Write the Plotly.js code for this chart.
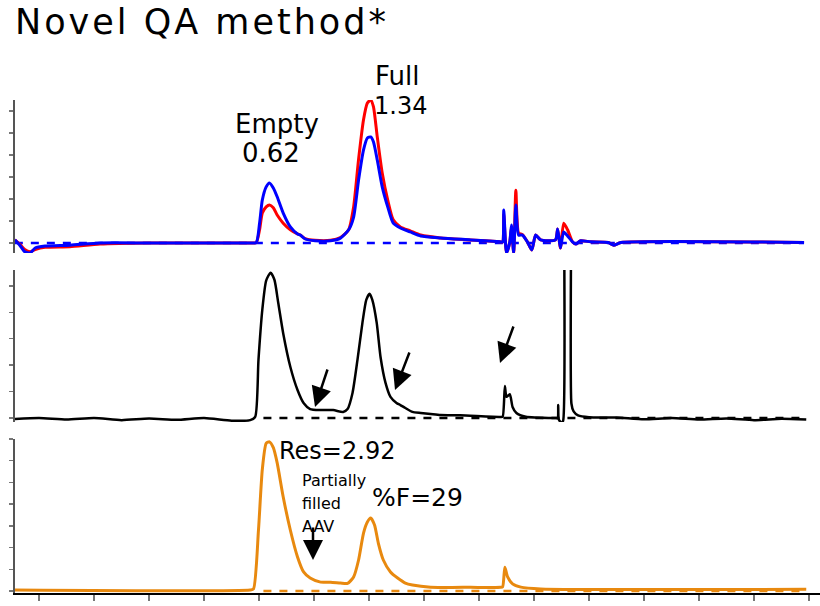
<!DOCTYPE html>
<html>
<head>
<meta charset="utf-8">
<script src="https://cdn.plot.ly/plotly-3.0.1.min.js"></script>
<style>html,body{margin:0;padding:0;background:#fff;} .gtitle{letter-spacing:3px;}</style>
</head>
<body>
<div id="chart" style="width:820px;height:606px;"></div>
<script>
// ---- data (retention time in min, detector signal in tick units) ----
const uvBlueX = [-0.44,-0.35,-0.26,-0.16,-0.07,0.11,0.56,1.11,2.02,3.84,3.95,4.01,4.06,4.13,4.19,4.26,4.33,4.44,4.57,4.70,4.75,4.84,5.02,5.30,5.48,5.63,5.72,5.81,5.90,5.97,6.03,6.08,6.15,6.24,6.34,6.44,6.57,6.75,6.94,7.30,7.85,8.39,8.43,8.45,8.50,8.56,8.59,8.63,8.67,8.72,8.79,8.88,8.96,9.03,9.12,9.39,9.43,9.48,9.54,9.61,9.70,9.76,9.85,10.03,10.35,10.45,10.58,13.91];
const uvBlueY = [0.14,-0.1,-0.4,-0.45,-0.23,-0.14,-0.1,0,0,0,0.02,0.9,1.95,2.55,2.73,2.5,2.1,1.36,0.73,0.41,0.36,0.18,0.1,0.1,0.22,0.6,1.18,2.86,4.23,4.77,4.82,4.6,3.77,2.55,1.64,0.9,0.68,0.5,0.32,0.23,0.14,0.05,0.05,1.5,-0.45,0.05,0.82,-0.45,1.73,0.36,0.36,0.05,-0.32,0.36,0.14,0.14,0.64,-0.23,0.5,0.32,0.05,-0.05,0.1,0.05,0.02,-0.1,0.02,0.02];
const uvRedX = [-0.44,-0.35,-0.26,-0.16,-0.07,0.11,0.56,1.11,2.02,3.84,3.95,4.01,4.06,4.13,4.19,4.26,4.33,4.44,4.57,4.70,4.75,4.84,5.02,5.30,5.48,5.63,5.72,5.81,5.90,5.97,6.03,6.08,6.15,6.24,6.34,6.44,6.57,6.75,6.94,7.30,7.85,8.39,8.43,8.45,8.50,8.56,8.59,8.63,8.67,8.72,8.79,8.88,8.96,9.03,9.12,9.39,9.43,9.48,9.54,9.61,9.70,9.76,9.85,10.03,10.35,10.45,10.58,13.91];
const uvRedY = [0.14,-0.05,-0.3,-0.4,-0.3,-0.2,-0.17,-0.05,0,0,0.02,0.6,1.36,1.64,1.73,1.6,1.27,0.9,0.6,0.41,0.36,0.2,0.12,0.12,0.25,0.6,1.64,3.8,5.6,6.36,6.5,6.2,4.82,3.18,1.95,1.05,0.73,0.55,0.36,0.23,0.14,0.05,0.05,1.3,-0.45,0.05,0.7,-0.45,2.4,0.45,0.38,0.05,-0.32,0.36,0.14,0.14,0.64,-0.23,0.9,0.6,0.05,-0.05,0.1,0.05,0.02,-0.1,0.02,0.02];
const flX = [-0.44,0.0,0.5,1.0,1.5,2.0,2.5,3.0,3.5,3.84,3.93,3.99,4.06,4.13,4.21,4.28,4.35,4.44,4.57,4.70,4.81,4.93,5.12,5.35,5.53,5.61,5.70,5.79,5.88,5.95,6.01,6.06,6.14,6.21,6.30,6.39,6.50,6.57,6.66,6.79,6.94,7.12,7.30,7.66,8.39,8.43,8.47,8.50,8.56,8.61,8.68,8.85,9.39,9.43,9.44,9.45,9.50,9.53,9.545,9.665,9.68,9.72,9.80,10.0,10.5,11.0,11.5,12.0,12.5,13.0,13.5,13.95];
const flY = [-0.04,0.0,-0.06,0.0,-0.08,-0.02,-0.07,0.0,-0.1,-0.08,0.04,2.2,4.1,5.2,5.5,5.23,4.35,3.2,1.93,1.06,0.57,0.34,0.3,0.3,0.23,0.34,0.95,2.2,3.6,4.47,4.7,4.47,3.6,2.3,1.33,0.8,0.57,0.49,0.38,0.23,0.19,0.15,0.11,0.1,0.04,0.05,1.21,0.8,0.9,0.42,0.19,0.05,0.0,0.0,0.49,-0.05,-0.19,-0.1,60,60,0.55,0.25,0.1,0.03,0.02,-0.05,0.0,-0.06,-0.02,-0.08,-0.03,-0.06];
const qaX = [-0.44,3.84,3.90,3.99,4.06,4.13,4.19,4.26,4.33,4.44,4.57,4.70,4.81,4.93,5.12,5.30,5.48,5.61,5.72,5.81,5.90,5.97,6.03,6.10,6.17,6.26,6.39,6.52,6.66,6.79,7.12,7.85,8.39,8.43,8.47,8.52,8.61,8.76,9.12,13.95];
const qaY = [0.05,0.05,0.1,2.8,5.6,6.8,6.87,6.6,5.9,4.33,2.8,1.57,0.88,0.6,0.41,0.41,0.37,0.35,0.65,1.43,2.67,3.18,3.36,3.04,2.2,1.43,0.88,0.6,0.37,0.28,0.18,0.17,0.17,0.2,1.1,0.65,0.33,0.18,0.1,0.08];
const baseUvX = [-0.44,13.91];
const baseFlX = [4.08,13.9];
const baseQaX = [4.08,13.95];
const baseY = [0,0];

const dashed = {dash:'8px,8px', width:2.5};
const sm = {shape:'spline', smoothing:0.6};
const traces = [
  {x:baseUvX, y:baseY, xaxis:'x', yaxis:'y', mode:'lines', line:Object.assign({color:'#0000ff'},dashed), hoverinfo:'skip'},
  {x:uvRedX, y:uvRedY, xaxis:'x', yaxis:'y', mode:'lines', line:Object.assign({color:'#ff0000', width:3}, sm)},
  {x:uvBlueX, y:uvBlueY, xaxis:'x', yaxis:'y', mode:'lines', line:Object.assign({color:'#0000ff', width:3}, sm)},
  {x:baseFlX, y:baseY, xaxis:'x', yaxis:'y2', mode:'lines', line:Object.assign({color:'#000000'},dashed), hoverinfo:'skip'},
  {x:flX, y:flY, xaxis:'x', yaxis:'y2', mode:'lines', line:Object.assign({color:'#000000', width:2.5}, sm)},
  {x:baseQaX, y:baseY, xaxis:'x', yaxis:'y3', mode:'lines', line:Object.assign({color:'#e8890f'},dashed), hoverinfo:'skip'},
  {x:qaX, y:qaY, xaxis:'x', yaxis:'y3', mode:'lines', line:Object.assign({color:'#e8890f', width:3}, sm)}
];

const W = 805, H = 593, L = 15;
const px = v => (v - L) / W;
const py = v => (H - v) / H;
const yax = (dom, rng) => ({domain:dom, range:rng, anchor:'x', tick0:0, dtick:1, ticks:'outside', ticklen:4, tickwidth:1.5, tickcolor:'#777', showticklabels:false, showline:true, linecolor:'#555', linewidth:2, showgrid:false, zeroline:false, fixedrange:true});
const F = 'DejaVu Sans, sans-serif';
const txt = (t, x, y, s) => ({text:t, xref:'paper', yref:'paper', x:px(x), y:py(y), xanchor:'left', yanchor:'middle', showarrow:false, font:{family:F, size:s, color:'#000'}});
const arr = (x, y, ax, ay) => ({text:'', xref:'paper', yref:'paper', x:px(x), y:py(y), ax:ax, ay:ay, showarrow:true, arrowhead:2, arrowsize:1.6, arrowwidth:2.5, arrowcolor:'#000', standoff:0});

const layout = {
  width:820, height:606,
  margin:{l:15, r:0, t:0, b:13},
  paper_bgcolor:'#fff', plot_bgcolor:'#fff',
  showlegend:false,
  title:{text:'Novel QA method*', x:15/820, xanchor:'left', y:1-22/606, yanchor:'middle', font:{family:F, size:35, color:'#000'}},
  xaxis:{anchor:'y3', range:[-0.437,14.2], tick0:0, dtick:1, ticks:'outside', ticklen:6, tickwidth:1.5, tickcolor:'#777', showticklabels:false, showline:true, linecolor:'#000', linewidth:2, showgrid:false, zeroline:false, fixedrange:true},
  yaxis: yax([0.5734,0.8314],[-0.455,6.5]),
  yaxis2: yax([0.2884,0.5447],[-0.15,5.6]),
  yaxis3: yax([0,0.2597],[-0.09,7.0]),
  annotations:[
    txt('Empty',233,124,26), txt('0.62',240,152.5,26),
    txt('Full',373,76.5,26), txt('1.34',372,106,24),
    txt('Res=2.92',277,451,24),
    txt('Partially',300,480,16), txt('filled',300,503.5,16), txt('AAV',300,526,16),
    txt('%F=29',370,497.5,25),
    arr(315,407,13,-39), arr(395,390,15,-39), arr(500,363,14,-38), arr(313,560,0,-34)
  ]
};
Plotly.newPlot('chart', traces, layout, {staticPlot:true, displayModeBar:false});
</script>
</body>
</html>
